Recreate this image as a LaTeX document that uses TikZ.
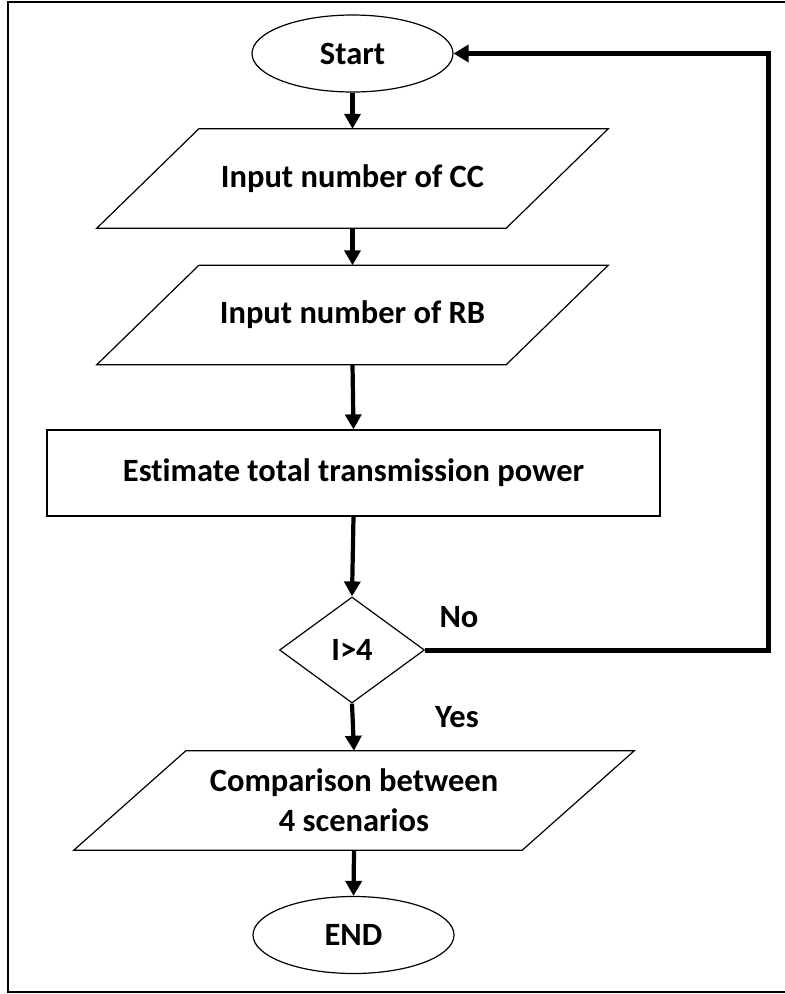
\documentclass[tikz,border=0pt]{standalone}
\usepackage{fontspec}
\setmainfont{Carlito}[Ligatures=NoCommon]
\usetikzlibrary{shapes.geometric,arrows.meta,calc}
\begin{document}
\begin{tikzpicture}[x=1pt,y=-1pt,
  txt/.style={font=\bfseries\fontsize{32.5}{40}\selectfont, align=center, text=black},
  term/.style={ellipse, draw, line width=1.2pt, minimum width=201pt, minimum height=77pt, inner sep=0pt, txt},
  iobox/.style={rectangle, minimum height=99pt, inner sep=0pt, txt},
  procbox/.style={rectangle, draw, line width=1.2pt, minimum width=613pt, minimum height=86pt, inner sep=0pt, txt},
  decbox/.style={diamond, draw, line width=1.2pt, minimum width=145pt, minimum height=106pt, inner sep=0pt, txt},
  flow/.style={line width=4.2pt, -{Triangle[width=16pt,length=15pt]}},
  loopline/.style={line width=5pt, -{Triangle[width=17pt,length=15pt]}},
  outline/.style={draw, line width=1.2pt, line join=miter},
  lbl/.style={txt}
]
\useasboundingbox (0,0) rectangle (785,994);
\fill[white] (0,0) rectangle (785,994);
% frame
\draw[line width=2pt] (785,2) -- (8,2) -- (8,992) -- (785,992);

\node[term] (S) at (352.5,53.5) {Start};
\node[iobox, minimum width=409pt] (P1) at (352.5,178.5) {Input number of CC};
\node[iobox, minimum width=409pt] (P2) at (352.5,315) {Input number of RB};
\node[procbox] (E) at (353.5,473) {Estimate total transmission power};
\node[decbox] (D) at (352,650) {I>4};
\node[iobox, minimum width=448pt] (P3) at (354,800.5) {Comparison between\\4 scenarios};
\node[term] (F) at (353.5,935) {END};

% parallelogram outlines
\draw[outline] ($(P1.north west)+(51,0)$) -- ($(P1.north east)+(51,0)$) -- ($(P1.south east)+(-51,0)$) -- ($(P1.south west)+(-51,0)$) -- cycle;
\draw[outline] ($(P2.north west)+(51,0)$) -- ($(P2.north east)+(51,0)$) -- ($(P2.south east)+(-51,0)$) -- ($(P2.south west)+(-51,0)$) -- cycle;
\draw[outline] ($(P3.north west)+(56,0)$) -- ($(P3.north east)+(56,0)$) -- ($(P3.south east)+(-56,0)$) -- ($(P3.south west)+(-56,0)$) -- cycle;

% connectors
\draw[flow] (S.south) -- (P1.north);
\draw[flow] (P1.south) -- (P2.north);
\draw[flow] (P2.south) -- (E.north);
\draw[flow] (E.south) -- (D.north);
\draw[flow] (D.south) -- (P3.north);
\draw[flow] (P3.south) -- (F.north);

\coordinate (R) at (768,0);
\draw[loopline, line join=miter] (D.east) -- (D.east -| R) -- (S.east -| R) -- (S.east);

\node[lbl] (no) at (459,617) {No};
\node[lbl] (yes) at (457,717) {Yes};
\end{tikzpicture}
\end{document}
